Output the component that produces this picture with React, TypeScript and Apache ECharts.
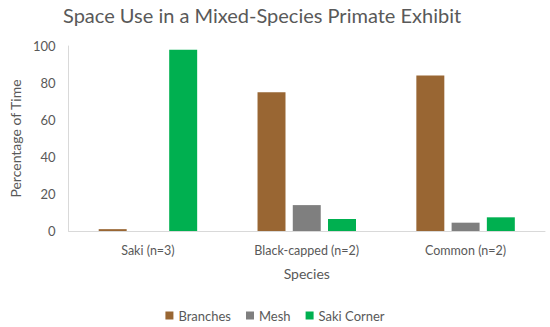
import React, { useEffect, useRef } from "react";
import * as echarts from "echarts";

const categories = ["Saki (n=3)", "Black-capped (n=2)", "Common (n=2)"];
const seriesNames = ["Branches", "Mesh", "Saki Corner"];
const branches = [1, 75, 84];
const mesh = [0, 14, 4.5];
const sakiCorner = [98, 6.5, 7.4];
const yTicks = [0, 20, 40, 60, 80, 100];
const colors = ["#996633", "#7f7f7f", "#00b050"];

const FONT = "Lato";

export default function App() {
  const ref = useRef<HTMLDivElement>(null);
  useEffect(() => {
    if (!ref.current) return;
    const chart = echarts.init(ref.current, undefined, { renderer: "svg" });
    const values = [branches, mesh, sakiCorner];
    chart.setOption({
      animation: false,
      color: colors,
      title: {
        text: "Space Use in a Mixed-Species Primate Exhibit",
        left: 58,
        top: 0,
        textStyle: { fontFamily: FONT, fontSize: 20, fontWeight: "normal", color: "#595959" },
      },
      legend: {
        data: seriesNames,
        bottom: 0,
        left: "center",
        icon: "rect",
        itemWidth: 8,
        itemHeight: 8,
        itemGap: 15,
        textStyle: { fontFamily: FONT, fontSize: 13, color: "#595959" },
      },
      grid: { left: 62, right: 5, top: 46, bottom: 96, containLabel: false },
      xAxis: {
        type: "category",
        data: categories,
        name: "Species",
        nameLocation: "middle",
        nameGap: 35,
        nameTextStyle: { fontFamily: FONT, fontSize: 14, color: "#595959" },
        axisLine: { lineStyle: { color: "#d9d9d9" } },
        axisTick: { show: false },
        axisLabel: { fontFamily: FONT, fontSize: 12.5, color: "#595959", margin: 13 },
      },
      yAxis: {
        type: "value",
        min: yTicks[0],
        max: yTicks[yTicks.length - 1],
        interval: 20,
        name: "Percentage of Time",
        nameLocation: "middle",
        nameGap: 44,
        nameTextStyle: { fontFamily: FONT, fontSize: 14, color: "#595959" },
        axisLine: { show: true, lineStyle: { color: "#d9d9d9" } },
        axisTick: { show: false },
        splitLine: { show: false },
        axisLabel: { fontFamily: FONT, fontSize: 13, color: "#595959", margin: 13 },
      },
      series: seriesNames.map((name, i) => ({
        name,
        type: "bar",
        data: values[i],
        barGap: "26%",
        barCategoryGap: "38%",
        itemStyle: { color: colors[i] },
      })),
    });
    return () => chart.dispose();
  }, []);
  return <div ref={ref} style={{ width: 550, height: 327, position: "absolute", left: 0, top: 0 }} />;
}
